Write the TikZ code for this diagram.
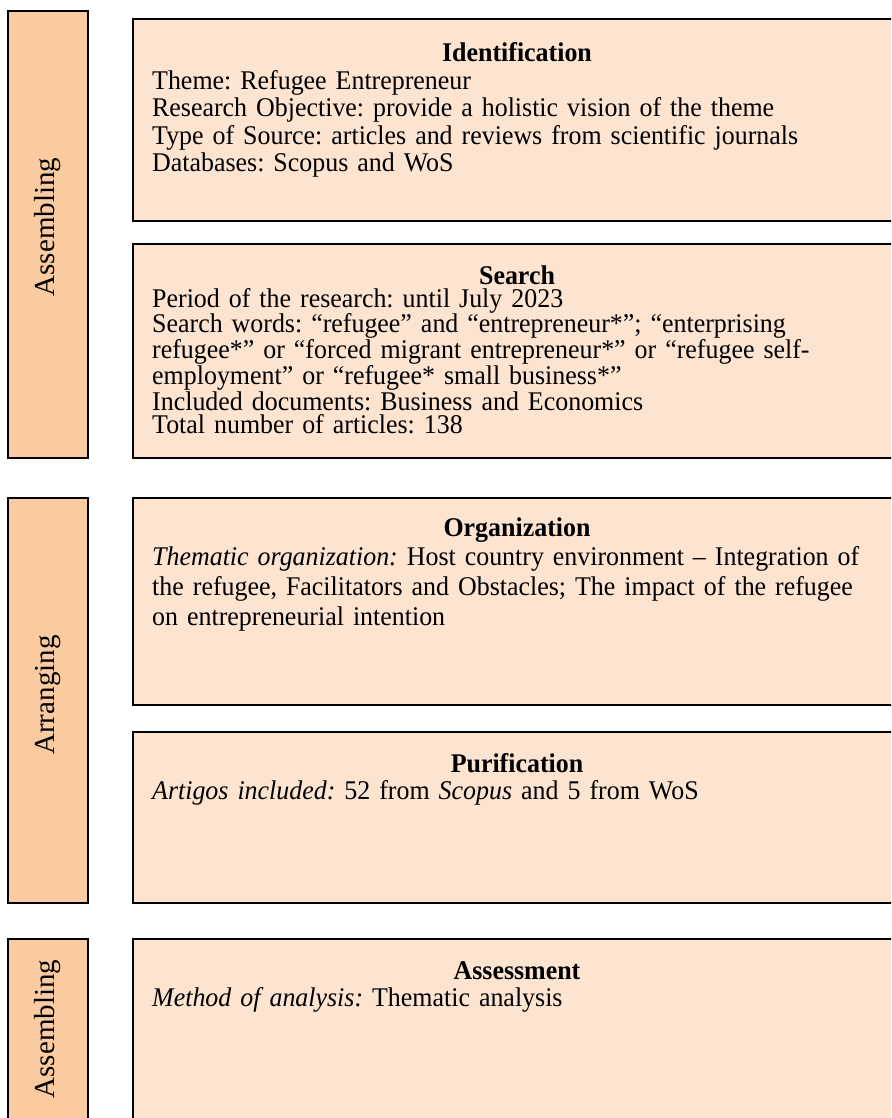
\documentclass[tikz,border=0pt]{standalone}
\usepackage{fontspec}
\setmainfont{Liberation Serif}[FakeStretch=0.96]
\newfontfamily\lblfont{Liberation Serif}
\definecolor{barfill}{HTML}{FACBA0}
\definecolor{cardfill}{HTML}{FCE4D0}
\begin{document}
\frenchspacing
\setlength{\lineskiplimit}{-100pt}
\begin{tikzpicture}[x=1pt,y=-1pt,
  bar/.style={draw=black, line width=1.3pt, fill=barfill},
  card/.style={draw=black, line width=1.3pt, fill=cardfill},
  ttl/.style={anchor=base, inner sep=0pt, font=\fontsize{27}{27}\selectfont\bfseries},
  body/.style={anchor=base west, inner sep=0pt, align=left, text width=760pt},
  lbl/.style={rotate=90, inner sep=0pt, font=\lblfont\fontsize{29}{29}\selectfont}]
\useasboundingbox (0,0) rectangle (891,1118);
\clip (0,0) rectangle (891,1118);
% left bars
\draw[bar] (8,11) rectangle (88,458);
\draw[bar] (8,498) rectangle (88,903);
\draw[bar] (8,939) rectangle (88,1125);
\node[lbl] (l1) at (48,227) {Assembling};
\node[lbl] (l2) at (48,695) {Arranging};
\node[lbl] (l3) at (48,1029) {Assembling};
% cards
\draw[card] (133,19) rectangle (901,221);
\draw[card] (133,244) rectangle (901,458);
\draw[card] (133,498) rectangle (901,705);
\draw[card] (133,732) rectangle (901,903);
\draw[card] (133,939) rectangle (901,1125);
% Identification
\node[ttl] (t1) at (517,62) {Identification};
\node[body, font=\fontsize{27}{27.5}\selectfont] (b1) at (152,89.3)
 {Theme: Refugee Entrepreneur\\
  Research Objective: provide a holistic vision of the theme\\
  Type of Source: articles and reviews from scientific journals\\
  Databases: Scopus and WoS};
% Search
\node[ttl] (t2) at (517,284) {Search};
\node[body, font=\fontsize{27}{23}\selectfont] (b2) at (152,307)
 {Period of the research: until July 2023\\
  Search words: “refugee” and “entrepreneur*”; “enterprising\\
  refugee*” or “forced migrant entrepreneur*” or “refugee self-\\
  employment” or “refugee* small business*”\\
  Included documents: Business and Economics\\
  Total number of articles: 138};
% Organization
\node[ttl] (t3) at (517,536) {Organization};
\node[body, font=\fontsize{27}{30}\selectfont] (b3) at (152,565)
 {\textit{Thematic organization:} Host country environment – Integration of\\
  the refugee, Facilitators and Obstacles; The impact of the refugee\\
  on entrepreneurial intention};
% Purification
\node[ttl] (t4) at (517,772) {Purification};
\node[body, font=\fontsize{27}{27.5}\selectfont] (b4) at (152,799)
 {\textit{Artigos included:} 52 from \textit{Scopus} and 5 from WoS};
% Assessment
\node[ttl] (t5) at (517,979) {Assessment};
\node[body, font=\fontsize{27}{27.5}\selectfont] (b5) at (152,1006)
 {\textit{Method of analysis:} Thematic analysis};
\end{tikzpicture}
\end{document}
